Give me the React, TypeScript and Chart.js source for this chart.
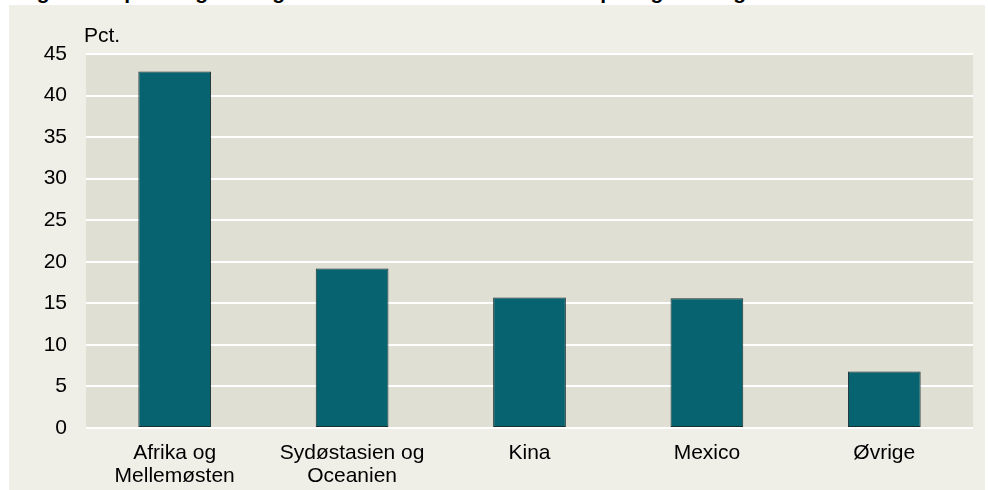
import React, { useEffect, useRef } from "react";
import { Chart, registerables } from "chart.js";

Chart.register(...registerables);

const TITLE = "Figur 3.  Import af grøntsager fra lande uden for EU fordelt på regioner og lande";
const Y_UNIT = "Pct.";
const CATEGORIES: string[][] = [
  ["Afrika og", "Mellemøsten"],
  ["Sydøstasien og", "Oceanien"],
  ["Kina"],
  ["Mexico"],
  ["Øvrige"],
];
const VALUES = [42.9, 19.2, 15.7, 15.6, 6.8];
const Y_MIN = 0;
const Y_MAX = 45;
const Y_STEP = 5;

const FONT = "'Liberation Sans', Arial, sans-serif";

export default function App() {
  const ref = useRef<HTMLCanvasElement | null>(null);

  useEffect(() => {
    if (!ref.current) return;
    const bgPlugin = {
      id: "plotBg",
      beforeDraw(chart: any) {
        const { ctx, chartArea } = chart;
        ctx.save();
        ctx.fillStyle = "#e0dfd4";
        ctx.fillRect(chartArea.left, chartArea.top, chartArea.right - chartArea.left, chartArea.bottom - chartArea.top);
        ctx.restore();
      },
      afterDraw(chart: any) {
        const { ctx, chartArea } = chart;
        ctx.save();
        ctx.fillStyle = "#000";
        ctx.font = `21px ${FONT}`;
        ctx.textBaseline = "middle";
        ctx.textAlign = "left";
        ctx.fillText(Y_UNIT, chartArea.left - 2, chartArea.top - 18);
        ctx.restore();
      },
    };
    const chart = new Chart(ref.current, {
      type: "bar",
      data: {
        labels: CATEGORIES,
        datasets: [
          {
            data: VALUES,
            backgroundColor: "#07636f",
            borderColor: "#1a2f30",
            borderWidth: 1,
            borderSkipped: false,
            barPercentage: 0.41,
            categoryPercentage: 1,
          },
        ],
      },
      options: {
        animation: false,
        responsive: false,
        maintainAspectRatio: false,
        layout: { padding: { top: 49, right: 12, left: 0, bottom: 0 } },
        plugins: { legend: { display: false }, tooltip: { enabled: false } },
        scales: {
          x: {
            grid: { display: false, drawTicks: false },
            border: { display: false },
            ticks: {
              color: "#000",
              font: { family: FONT, size: 21, lineHeight: 1.1 },
              padding: 14,
              maxRotation: 0,
              autoSkip: false,
            },
            afterFit(scale: any) {
              scale.height = 62;
            },
          },
          y: {
            min: Y_MIN,
            max: Y_MAX,
            grid: { color: "#ffffff", lineWidth: 2, drawTicks: false },
            border: { display: false },
            ticks: {
              stepSize: Y_STEP,
              color: "#000",
              font: { family: FONT, size: 21 },
              padding: 19,
            },
            afterFit(scale: any) {
              scale.width = 77;
            },
          },
        },
      },
      plugins: [bgPlugin],
    });
    return () => chart.destroy();
  }, []);

  return (
    <div style={{ position: "fixed", left: 0, top: 0, width: 988, height: 490, background: "#ffffff", overflow: "hidden" }}>
      <div style={{ position: "absolute", left: 0, top: 0, width: 988, height: 5, overflow: "hidden" }}>
        <div
          style={{
            position: "absolute",
            left: 18,
            top: -19,
            whiteSpace: "nowrap",
            fontFamily: FONT,
            fontWeight: "bold",
            fontSize: 21,
            lineHeight: "21px",
            color: "#000",
          }}
        >
          {TITLE}
        </div>
      </div>
      <div style={{ position: "absolute", left: 9, top: 5, width: 976, height: 485, background: "#efeee7" }}>
        <canvas ref={ref} width={976} height={485} style={{ display: "block", width: 976, height: 485 }} />
      </div>
    </div>
  );
}
